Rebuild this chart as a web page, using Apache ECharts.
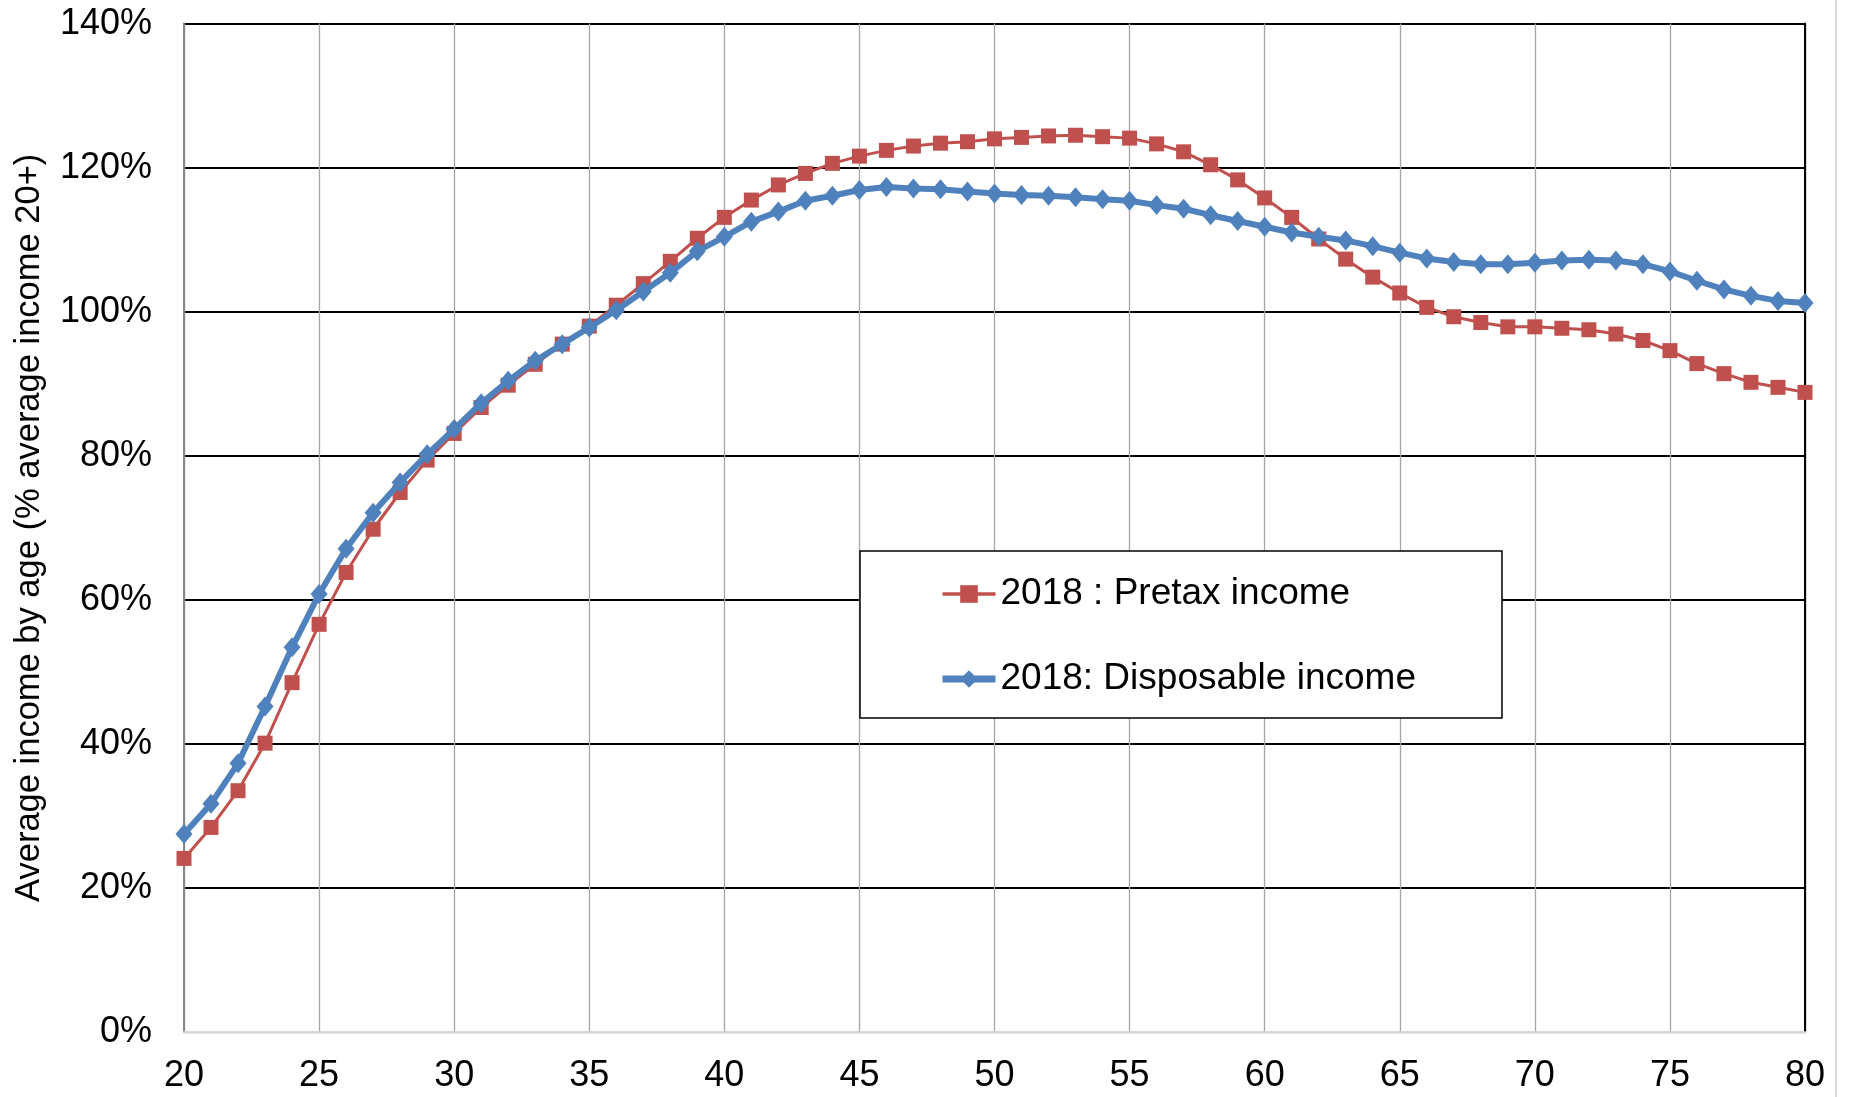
<!DOCTYPE html>
<html>
<head>
<meta charset="utf-8">
<script src="https://cdn.jsdelivr.net/npm/echarts@6/dist/echarts.min.js"></script>
<style>
html,body{margin:0;padding:0;background:#fff;}
#chart{width:1849px;height:1097px;}
</style>
</head>
<body>
<div id="chart"></div>
<script>
const ages = [20,21,22,23,24,25,26,27,28,29,30,31,32,33,34,35,36,37,38,39,40,41,42,43,44,45,46,47,48,49,50,51,52,53,54,55,56,57,58,59,60,61,62,63,64,65,66,67,68,69,70,71,72,73,74,75,76,77,78,79,80];
const pretax = [24.1,28.4,33.5,40.1,48.5,56.6,63.8,69.8,74.9,79.4,83.1,86.7,89.8,92.7,95.5,98.0,100.9,103.9,107.0,110.2,113.1,115.5,117.6,119.2,120.6,121.6,122.4,123.0,123.4,123.6,124.0,124.2,124.4,124.5,124.3,124.1,123.3,122.2,120.4,118.3,115.8,113.1,110.1,107.3,104.8,102.6,100.6,99.3,98.5,97.9,97.9,97.7,97.5,96.9,96.0,94.6,92.8,91.4,90.2,89.5,88.8];
const disposable = [27.5,31.7,37.3,45.2,53.4,60.8,67.1,72.1,76.3,80.2,83.7,87.3,90.4,93.2,95.5,97.8,100.2,102.8,105.4,108.4,110.4,112.5,113.9,115.4,116.1,116.9,117.3,117.1,117.0,116.7,116.4,116.2,116.1,115.9,115.6,115.4,114.8,114.3,113.4,112.6,111.8,111.0,110.4,109.9,109.1,108.2,107.4,106.9,106.6,106.6,106.8,107.1,107.2,107.1,106.6,105.6,104.3,103.1,102.2,101.5,101.2];
const seriesNames = ['2018 : Pretax income', '2018: Disposable income'];
const yAxisName = 'Average income by age (% average income 20+)';

const FONT = '"Liberation Sans", Arial, sans-serif';
const RED = '#C0504D', BLUE = '#4F81BD';
const chart = echarts.init(document.getElementById('chart'));
const xGridColors = ['#868686'].concat(new Array(11).fill('#a6a6a6')).concat(['#000000']);
const yGridColors = ['#d9d9d9'].concat(new Array(7).fill('#000000'));

chart.setOption({
  backgroundColor: '#ffffff',
  animation: false,
  grid: {left: 184, right: 44, top: 23.6, bottom: 65, containLabel: false},
  legend: {
    orient: 'vertical',
    left: 860, top: 551,
    padding: [22, 86, 18, 79],
    itemGap: 43,
    itemWidth: 53,
    itemHeight: 22,
    borderColor: '#000', borderWidth: 1.5,
    backgroundColor: '#fff',
    textStyle: {fontFamily: FONT, fontSize: 37, color: '#000', lineHeight: 42},
    data: [
      {name: seriesNames[0], lineStyle: {width: 3.5, color: RED}, itemStyle: {color: RED}},
      {name: seriesNames[1], lineStyle: {width: 7, color: BLUE}, itemStyle: {color: BLUE}}
    ]
  },
  xAxis: {
    type: 'value', min: 20, max: 80, interval: 5,
    axisLine: {show: true, lineStyle: {color: '#d9d9d9', width: 2.5}},
    axisTick: {show: false},
    axisLabel: {fontFamily: FONT, fontSize: 36, color: '#000', margin: 26},
    splitLine: {show: true, lineStyle: {color: xGridColors, width: 1.3}}
  },
  yAxis: [{
    type: 'value', min: 0, max: 140, interval: 20,
    name: yAxisName,
    nameLocation: 'middle',
    nameGap: 137,
    nameTextStyle: {fontFamily: FONT, fontSize: 34.5, color: '#000'},
    axisLine: {show: true, lineStyle: {color: '#868686', width: 2}},
    axisTick: {show: false},
    axisLabel: {fontFamily: FONT, fontSize: 36, color: '#000', margin: 32, formatter: '{value}%'},
    splitLine: {show: true, lineStyle: {color: yGridColors, width: 2.2}}
  }, {
    type: 'value', min: 0, max: 140, interval: 20, position: 'right',
    axisLine: {show: true, lineStyle: {color: '#000', width: 2}},
    axisTick: {show: false}, axisLabel: {show: false}, splitLine: {show: false}
  }],
  graphic: [{
    type: 'line', shape: {x1: 1836, y1: 0, x2: 1836, y2: 1097},
    style: {stroke: '#d9d9d9', lineWidth: 2}
  }],
  series: [{
    name: seriesNames[0],
    type: 'line',
    data: ages.map((a, i) => [a, pretax[i]]),
    symbol: 'rect', symbolSize: 15,
    showAllSymbol: true,
    lineStyle: {color: RED, width: 3},
    itemStyle: {color: RED},
    z: 2
  }, {
    name: seriesNames[1],
    type: 'line',
    data: ages.map((a, i) => [a, disposable[i]]),
    symbol: 'diamond', symbolSize: [17, 20],
    showAllSymbol: true,
    lineStyle: {color: BLUE, width: 6},
    itemStyle: {color: BLUE},
    z: 3
  }]
});
</script>
</body>
</html>
